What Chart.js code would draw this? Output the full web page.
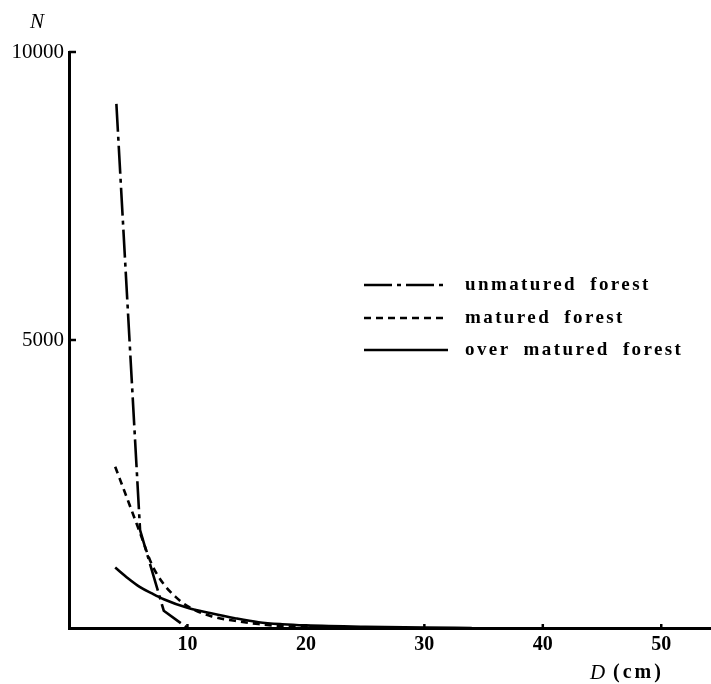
<!DOCTYPE html>
<html>
<head>
<meta charset="utf-8">
<script src="https://cdn.jsdelivr.net/npm/chart.js@4.4.1/dist/chart.umd.min.js"></script>
<style>
  html, body { margin: 0; padding: 0; background: #fff; }
  canvas { display: block; }
</style>
</head>
<body>
<canvas id="chart" width="711" height="684"></canvas>
<script>
// Stem diameter D (cm) and number of trees N for three forest stages
const unmaturedD = [4, 6, 8, 10];
const unmaturedN = [9100, 1700, 300, 0];

const maturedD = [3.9, 5, 6, 7, 8, 9, 10, 12, 14, 16, 18, 20, 22];
const maturedN = [2800, 2200, 1650, 1100, 760, 540, 380, 205, 125, 68, 32, 12, 0];

const overD = [3.9, 5, 6, 7, 8, 10, 12, 14, 16, 18, 20, 25, 30, 34];
const overN = [1050, 860, 710, 600, 500, 350, 255, 170, 100, 65, 45, 20, 6, 0];

const xTickValues = [10, 20, 30, 40, 50];
const yTickValues = [5000, 10000];

const seriesNames = ['unmatured forest', 'matured forest', 'over matured forest'];

const toPoints = (xs, ys) => xs.map((x, i) => ({ x: x, y: ys[i] }));

const serif = "'Liberation Serif', 'Times New Roman', serif";

// Inward tick marks on both axes
const innerTicks = {
  id: 'innerTicks',
  afterDraw(chart) {
    const { ctx, scales: { x, y } } = chart;
    ctx.save();
    ctx.strokeStyle = '#000';
    ctx.lineWidth = 2.5;
    yTickValues.forEach(v => {
      const py = y.getPixelForValue(v);
      ctx.beginPath();
      ctx.moveTo(x.left, py);
      ctx.lineTo(x.left + 7, py);
      ctx.stroke();
    });
    xTickValues.forEach(v => {
      const px = x.getPixelForValue(v);
      ctx.beginPath();
      ctx.moveTo(px, y.bottom);
      ctx.lineTo(px, y.bottom - 4);
      ctx.stroke();
    });
    ctx.restore();
  }
};

// Axis names
const axisNames = {
  id: 'axisNames',
  afterDraw(chart) {
    const { ctx } = chart;
    ctx.save();
    ctx.fillStyle = '#000';
    ctx.textBaseline = 'middle';
    ctx.textAlign = 'left';
    ctx.font = 'italic 21px ' + serif;
    ctx.fillText('N', 30, 22);
    ctx.fillText('D', 590, 673);
    ctx.font = 'bold 20px ' + serif;
    ctx.letterSpacing = '3px';
    ctx.fillText('(cm)', 613, 673);
    ctx.restore();
  }
};

// Legend inside the plot area
const inlineLegend = {
  id: 'inlineLegend',
  afterDraw(chart) {
    const { ctx } = chart;
    const rows = [285, 318, 350];
    ctx.save();
    chart.data.datasets.forEach((ds, i) => {
      const yy = rows[i];
      ctx.strokeStyle = '#000';
      ctx.lineWidth = ds.borderWidth;
      ctx.setLineDash(ds.borderDash || []);
      ctx.beginPath();
      ctx.moveTo(364, yy);
      ctx.lineTo(448, yy);
      ctx.stroke();
      ctx.setLineDash([]);
      ctx.fillStyle = '#000';
      ctx.font = 'bold 19px ' + serif;
      ctx.letterSpacing = '2.4px';
      ctx.wordSpacing = '6px';
      ctx.textBaseline = 'middle';
      ctx.textAlign = 'left';
      ctx.fillText(ds.label, 465, yy);
    });
    ctx.restore();
  }
};

new Chart(document.getElementById('chart'), {
  type: 'line',
  data: {
    datasets: [
      {
        label: seriesNames[0],
        data: toPoints(unmaturedD, unmaturedN),
        borderColor: '#000',
        borderWidth: 2.6,
        borderDash: [28, 5, 4, 5],
        tension: 0,
        pointRadius: 0
      },
      {
        label: seriesNames[1],
        data: toPoints(maturedD, maturedN),
        borderColor: '#000',
        borderWidth: 2.6,
        borderDash: [7, 5],
        cubicInterpolationMode: 'monotone',
        pointRadius: 0
      },
      {
        label: seriesNames[2],
        data: toPoints(overD, overN),
        borderColor: '#000',
        borderWidth: 2.6,
        cubicInterpolationMode: 'monotone',
        pointRadius: 0
      }
    ]
  },
  options: {
    responsive: false,
    animation: false,
    devicePixelRatio: 1,
    layout: { padding: { top: 52, right: 0, bottom: 0, left: 0 } },
    plugins: {
      legend: { display: false },
      tooltip: { enabled: false }
    },
    scales: {
      x: {
        type: 'linear',
        min: 0,
        max: 54.2,
        afterBuildTicks: s => { s.ticks = xTickValues.map(v => ({ value: v })); },
        afterFit: s => { s.height = 56; },
        grid: { display: false, drawTicks: false },
        border: { display: true, color: '#000', width: 3 },
        ticks: {
          color: '#000',
          padding: 5,
          maxRotation: 0,
          font: { family: serif, size: 20, weight: 'bold' }
        }
      },
      y: {
        min: 0,
        max: 10000,
        afterBuildTicks: s => { s.ticks = yTickValues.map(v => ({ value: v })); },
        afterFit: s => { s.width = 69; },
        grid: { display: false, drawTicks: false },
        border: { display: true, color: '#000', width: 3 },
        ticks: {
          color: '#000',
          padding: 5,
          font: { family: serif, size: 21 },
          callback: v => String(v)
        }
      }
    }
  },
  plugins: [innerTicks, axisNames, inlineLegend]
});
</script>
</body>
</html>
